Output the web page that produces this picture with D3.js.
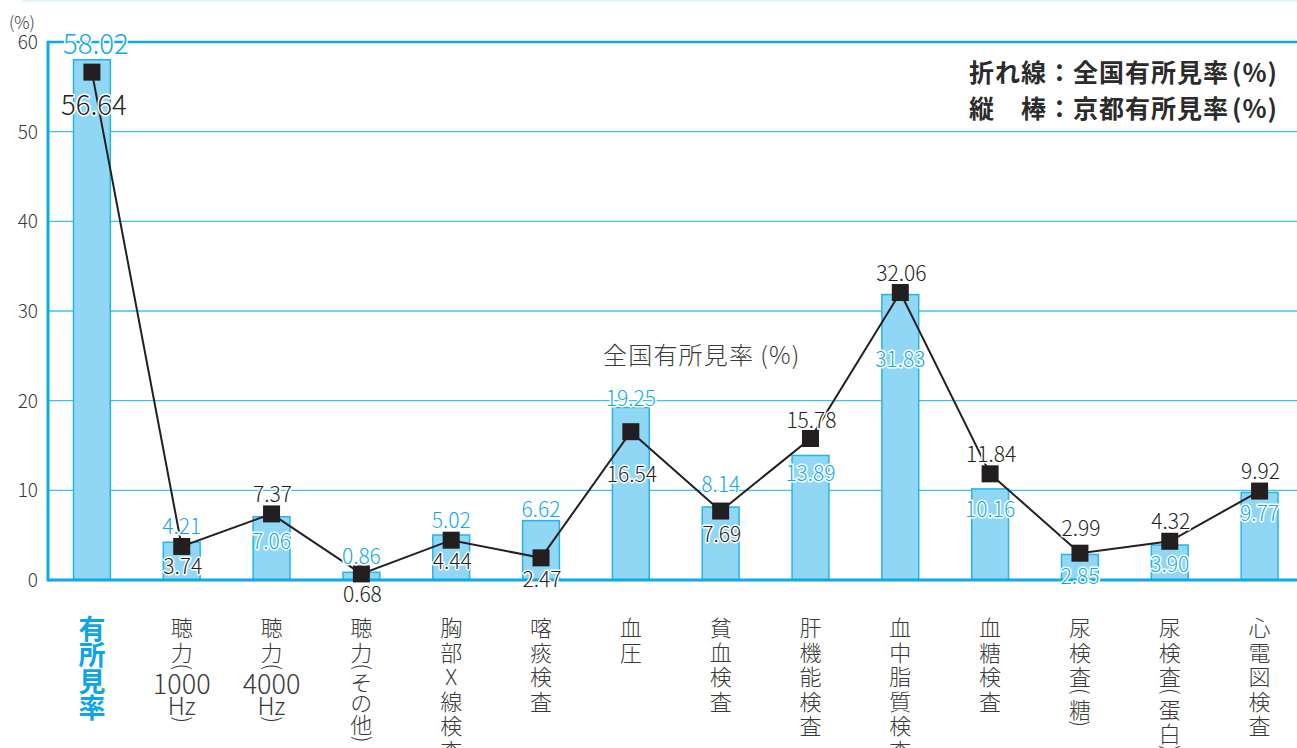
<!DOCTYPE html>
<html lang="ja">
<head>
<meta charset="utf-8">
<script src="https://cdn.jsdelivr.net/npm/d3@7"></script>
<style>
  html, body { margin: 0; padding: 0; background: #fff; }
  svg { display: block; }
  text { font-family: "Noto Sans CJK JP", "Noto Sans", sans-serif; }
</style>
</head>
<body>
<svg id="chart" width="1297" height="748"></svg>
<script>
// 検査項目
const categories = [
  "有所見率", "聴力(1000Hz)", "聴力(4000Hz)", "聴力(その他)", "胸部X線検査",
  "喀痰検査", "血圧", "貧血検査", "肝機能検査", "血中脂質検査",
  "血糖検査", "尿検査(糖)", "尿検査(蛋白)", "心電図検査"
];
// 京都有所見率（%）— 縦棒
const kyotoRates = [58.02, 4.21, 7.06, 0.86, 5.02, 6.62, 19.25, 8.14, 13.89, 31.83, 10.16, 2.85, 3.90, 9.77];
// 全国有所見率（%）— 折れ線
const nationalRates = [56.64, 3.74, 7.37, 0.68, 4.44, 2.47, 16.54, 7.69, 15.78, 32.06, 11.84, 2.99, 4.32, 9.92];
// 縦軸目盛
const yTicks = [0, 10, 20, 30, 40, 50, 60];
const legendLines = ["折れ線：全国有所見率(%)", "縦　棒：京都有所見率(%)"];
const lineCaption = "全国有所見率(%)";

// ---- layout ----
const svg = d3.select("#chart");
const W = 1297;
const BLUE = "#0eaae6", GRID = "#3fc0ee", BAR_FILL = "#8fd7f5", BAR_STROKE = "#27b3e9";
const DARK = "#231f20", TEXT = "#3a3a3a", LABEL_BLUE = "#12a9e8";
const NUM_FONT = "'Open Sans', 'Noto Sans', sans-serif";

const x = d3.scalePoint().domain(categories).range([47, 1304.5]).padding(0.5);
const y = d3.scaleLinear().domain([0, 60]).range([580, 42]);
const barW = x.step() * 0.41;

// vertical offset of each value label from its mark (centre of text)
const nationalLabelDy = [31, 19, -21, 19, 20, 20, 41, 22, -20, -21, -21, -26, -21, -21];
const kyotoLabelDy = [-18, -17, 23, -17, -16, -13, -10, -24, 17, 63, 19, 21, 18, 20];

// splits "...(%)" so the bracket part can be set in a half-width run
function withBracket(sel, s, gap) {
  const k = s.indexOf("(");
  sel.append("tspan").text(k < 0 ? s : s.slice(0, k));
  if (k >= 0) sel.append("tspan").attr("dx", gap).text(s.slice(k));
}

// faint top rule
svg.append("line").attr("x1", 22).attr("x2", W).attr("y1", 1).attr("y2", 1)
  .attr("stroke", "#e2f3fb").attr("stroke-width", 2);

// gridlines
svg.append("g").selectAll("line").data(yTicks.filter(t => t > 0 && t < 60)).join("line")
  .attr("x1", 48).attr("x2", W).attr("y1", d => y(d)).attr("y2", d => y(d))
  .attr("stroke", GRID).attr("stroke-width", 1.4);

// bars
svg.append("g").selectAll("rect").data(kyotoRates).join("rect")
  .attr("x", (d, i) => x(categories[i]) - barW / 2)
  .attr("width", barW)
  .attr("y", d => y(d))
  .attr("height", d => y(0) - y(d))
  .attr("fill", BAR_FILL).attr("stroke", BAR_STROKE).attr("stroke-width", 1.5);

// axes frame
svg.append("line").attr("x1", 48).attr("x2", W).attr("y1", y(60)).attr("y2", y(60))
  .attr("stroke", BLUE).attr("stroke-width", 2.5);
svg.append("line").attr("x1", 48).attr("x2", W).attr("y1", y(0)).attr("y2", y(0))
  .attr("stroke", BLUE).attr("stroke-width", 3);
svg.append("line").attr("x1", 48).attr("x2", 48).attr("y1", y(60) - 1.2).attr("y2", y(0) + 1.5)
  .attr("stroke", BLUE).attr("stroke-width", 3);

// y tick labels
const yAxis = d3.axisLeft(y).tickValues(yTicks).tickSize(0).tickPadding(0);
const yg = svg.append("g").attr("transform", "translate(38,0)").call(yAxis);
yg.select(".domain").remove();
yg.selectAll("text").attr("font-size", 19).attr("font-weight", 300).attr("fill", TEXT)
  .attr("font-family", NUM_FONT).attr("dy", "0.35em");
svg.append("text").attr("x", 22).attr("y", 21).attr("text-anchor", "middle")
  .attr("dominant-baseline", "central").attr("font-size", 17).attr("font-weight", 300)
  .attr("font-family", NUM_FONT).attr("fill", TEXT).text("(%)");

// national line + markers
const line = d3.line().x((d, i) => x(categories[i])).y(d => y(d));
svg.append("path").datum(nationalRates).attr("d", line)
  .attr("fill", "none").attr("stroke", DARK).attr("stroke-width", 2);
const mk = 17;
svg.append("g").selectAll("rect").data(nationalRates).join("rect")
  .attr("x", (d, i) => x(categories[i]) - mk / 2).attr("y", d => y(d) - mk / 2)
  .attr("width", mk).attr("height", mk).attr("fill", DARK);

// value labels
function valueLabel(g, xv, yv, txt, color, size) {
  g.append("text").attr("x", xv).attr("y", yv).attr("text-anchor", "middle")
    .attr("dominant-baseline", "central")
    .attr("font-family", NUM_FONT)
    .attr("font-size", size).attr("font-weight", 300).attr("fill", color)
    .attr("stroke", "#fff").attr("stroke-width", 3).attr("stroke-linejoin", "round")
    .attr("paint-order", "stroke").text(txt);
}
const lg = svg.append("g");
kyotoRates.forEach((v, i) => {
  valueLabel(lg, x(categories[i]) + (i === 0 ? 4 : 0), y(v) + kyotoLabelDy[i], v.toFixed(2), LABEL_BLUE, i === 0 ? 27.5 : 21);
});
nationalRates.forEach((v, i) => {
  valueLabel(lg, x(categories[i]) + (i === 0 ? 2 : 1), y(v) + nationalLabelDy[i], v.toFixed(2), DARK, i === 0 ? 27.5 : 21);
});

// legend (top right)
legendLines.forEach((t, i) => {
  const tx = svg.append("text").attr("x", 1278).attr("y", 71 + i * 36).attr("text-anchor", "end")
    .attr("dominant-baseline", "central").attr("font-size", 25).attr("font-weight", 700)
    .attr("letter-spacing", 1).attr("fill", "#2b2b2b");
  withBracket(tx, t, 3);
});

// caption for the line
const cap = svg.append("text").attr("x", 603).attr("y", 353).attr("dominant-baseline", "central")
  .attr("font-size", 24).attr("font-weight", 300).attr("letter-spacing", 1.2).attr("fill", TEXT);
withBracket(cap, lineCaption, 6);

// vertical category labels: one glyph (or one run of digits / latin) per line
function tokens(s) {
  return (s.match(/\d+|[A-Za-z]{2,}|./g) || []).map(t => {
    if (t === "(" || t === ")") return { t, h: 8, kind: "paren" };
    if (/^\d+$/.test(t)) return { t, h: 23, kind: "digits" };
    if (/^[A-Za-z]{2,}$/.test(t)) return { t, h: 22, kind: "latin" };
    if (/^[\u3040-\u309f]$/.test(t)) return { t, h: 20, kind: "kana" };
    return { t, h: 24.5, kind: "cjk" };
  });
}
const xg = svg.append("g");
categories.forEach((c, i) => {
  const cx = x(c);
  if (i === 0) {
    [...c].forEach((ch, k) => {
      xg.append("text").attr("x", cx).attr("y", 627 + k * 26.5).attr("text-anchor", "middle")
        .attr("dominant-baseline", "central").attr("font-size", 27).attr("font-weight", 700)
        .attr("fill", "#0ea5e6").text(ch);
    });
    return;
  }
  const toks = tokens(c);
  let cy = 626 - toks[0].h / 2;
  toks.forEach(tk => {
    const yc = cy + tk.h / 2;
    const t = xg.append("text").attr("x", cx).attr("y", yc).attr("text-anchor", "middle")
      .attr("dominant-baseline", "central")
      .attr("font-weight", 300).attr("fill", TEXT).text(tk.t);
    if (tk.kind === "digits") {
      t.attr("font-size", 27).attr("font-family", NUM_FONT);
    } else if (tk.kind === "latin") {
      t.attr("font-size", 24).attr("font-family", NUM_FONT);
    } else if (tk.kind === "paren") {
      // brackets turned a quarter so they read as vertical brackets
      t.attr("x", cx + 2.5).attr("font-size", 21).attr("font-family", NUM_FONT)
        .attr("transform", `rotate(90 ${cx + 2.5} ${yc})`);
    } else {
      t.attr("font-size", 22);
    }
    cy += tk.h;
  });
});
</script>
</body>
</html>
